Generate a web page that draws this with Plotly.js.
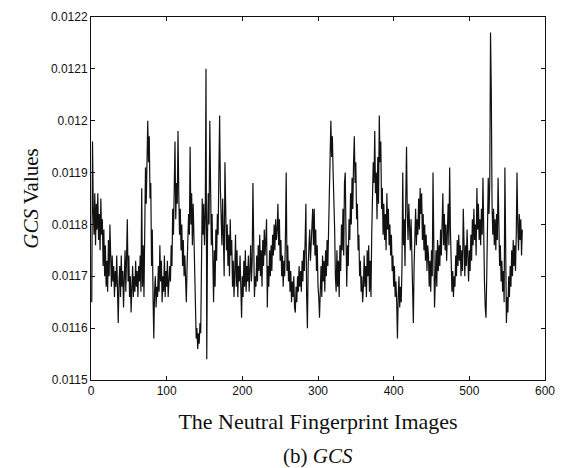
<!DOCTYPE html>
<html>
<head>
<meta charset="utf-8">
<script src="https://cdn.plot.ly/plotly-3.0.1.min.js"></script>
<style>html,body{margin:0;padding:0;background:#fff;}#chart{width:565px;height:468px;}</style>
</head>
<body>
<div id="chart"></div>
<script>
// GCS values for each neutral fingerprint image (index 1..N)
const gcsValues = [
0.01165,0.01196,0.01183,0.01178,0.01186,0.01176,0.01184,0.01179,0.01186,0.01177,
0.01182,0.01175,0.01185,0.01178,0.01181,0.01172,0.01179,0.01170,0.01176,0.01168,
0.01173,0.01167,0.01177,0.01170,0.01180,0.01171,0.01168,0.01174,0.01169,0.01172,
0.01166,0.01171,0.01168,0.01174,0.01165,0.01161,0.01169,0.01172,0.01166,0.01174,
0.01168,0.01171,0.01164,0.01170,0.01175,0.01167,0.01172,0.01181,0.01169,0.01174,
0.01166,0.01170,0.01163,0.01168,0.01172,0.01166,0.01170,0.01167,0.01173,0.01168,
0.01171,0.01166,0.01172,0.01169,0.01174,0.01167,0.01187,0.01168,0.01176,0.01166,
0.01183,0.01191,0.01184,0.01195,0.01200,0.01192,0.01197,0.01185,0.01188,0.01172,
0.01179,0.01166,0.01158,0.01167,0.01170,0.01164,0.01168,0.01166,0.01172,0.01167,
0.01176,0.01169,0.01173,0.01165,0.01170,0.01167,0.01174,0.01166,0.01171,0.01168,
0.01173,0.01166,0.01170,0.01172,0.01169,0.01176,0.01172,0.01183,0.01178,0.01190,
0.01196,0.01181,0.01188,0.01184,0.01198,0.01186,0.01178,0.01183,0.01175,0.01180,
0.01172,0.01177,0.01170,0.01174,0.01168,0.01165,0.01172,0.01176,0.01182,0.01178,
0.01195,0.01180,0.01186,0.01176,0.01184,0.01178,0.01170,0.01162,0.01158,0.01160,
0.01156,0.01159,0.01157,0.01161,0.01159,0.01172,0.01185,0.01178,0.01184,0.01176,
0.01182,0.01210,0.01154,0.01178,0.01186,0.01180,0.01200,0.01188,0.01176,0.01182,
0.01170,0.01165,0.01175,0.01168,0.01179,0.01173,0.01182,0.01178,0.01190,0.01201,
0.01187,0.01181,0.01176,0.01185,0.01179,0.01170,0.01192,0.01182,0.01175,0.01180,
0.01172,0.01178,0.01170,0.01181,0.01174,0.01177,0.01168,0.01173,0.01166,0.01171,
0.01178,0.01168,0.01175,0.01166,0.01172,0.01169,0.01174,0.01168,0.01162,0.01170,
0.01166,0.01173,0.01168,0.01175,0.01167,0.01172,0.01169,0.01174,0.01167,0.01171,
0.01176,0.01169,0.01173,0.01188,0.01171,0.01166,0.01170,0.01168,0.01174,0.01169,
0.01176,0.01171,0.01178,0.01170,0.01175,0.01168,0.01177,0.01172,0.01179,0.01174,
0.01177,0.01181,0.01164,0.01172,0.01168,0.01175,0.01170,0.01176,0.01171,0.01178,
0.01174,0.01180,0.01175,0.01181,0.01177,0.01179,0.01184,0.01176,0.01181,0.01173,
0.01177,0.01170,0.01174,0.01168,0.01173,0.01170,0.01178,0.01190,0.01171,0.01176,
0.01169,0.01173,0.01167,0.01171,0.01165,0.01169,0.01166,0.01170,0.01164,0.01163,
0.01168,0.01165,0.01170,0.01167,0.01172,0.01168,0.01171,0.01167,0.01173,0.01169,
0.01175,0.01171,0.01177,0.01184,0.01166,0.01160,0.01172,0.01176,0.01179,0.01173,
0.01177,0.01181,0.01183,0.01176,0.01183,0.01174,0.01179,0.01171,0.01176,0.01168,
0.01166,0.01162,0.01168,0.01172,0.01166,0.01174,0.01169,0.01173,0.01167,0.01175,
0.01170,0.01177,0.01172,0.01180,0.01185,0.01191,0.01200,0.01193,0.01197,0.01190,
0.01186,0.01179,0.01170,0.01167,0.01175,0.01168,0.01173,0.01166,0.01176,0.01171,
0.01180,0.01175,0.01183,0.01174,0.01188,0.01190,0.01178,0.01168,0.01176,0.01172,
0.01181,0.01177,0.01186,0.01180,0.01189,0.01183,0.01192,0.01197,0.01188,0.01192,
0.01181,0.01184,0.01175,0.01178,0.01170,0.01173,0.01167,0.01170,0.01165,0.01168,
0.01174,0.01168,0.01172,0.01166,0.01175,0.01170,0.01176,0.01167,0.01173,0.01166,
0.01178,0.01185,0.01192,0.01188,0.01198,0.01186,0.01190,0.01181,0.01193,0.01184,
0.01201,0.01192,0.01196,0.01183,0.01187,0.01178,0.01184,0.01177,0.01182,0.01175,
0.01186,0.01179,0.01183,0.01176,0.01180,0.01174,0.01178,0.01171,0.01174,0.01168,
0.01172,0.01166,0.01169,0.01165,0.01158,0.01166,0.01170,0.01164,0.01168,0.01165,
0.01172,0.01190,0.01176,0.01181,0.01172,0.01185,0.01195,0.01182,0.01177,0.01184,
0.01179,0.01175,0.01181,0.01174,0.01170,0.01161,0.01172,0.01178,0.01183,0.01176,
0.01181,0.01178,0.01185,0.01179,0.01187,0.01182,0.01186,0.01177,0.01182,0.01175,
0.01180,0.01173,0.01178,0.01171,0.01176,0.01174,0.01168,0.01173,0.01167,0.01175,
0.01170,0.01190,0.01172,0.01164,0.01169,0.01175,0.01168,0.01177,0.01171,0.01176,
0.01172,0.01179,0.01174,0.01181,0.01186,0.01176,0.01182,0.01175,0.01180,0.01173,
0.01178,0.01184,0.01176,0.01191,0.01179,0.01172,0.01167,0.01171,0.01166,0.01170,
0.01168,0.01174,0.01170,0.01177,0.01172,0.01178,0.01173,0.01176,0.01170,0.01175,
0.01171,0.01183,0.01174,0.01170,0.01176,0.01172,0.01179,0.01174,0.01169,0.01175,
0.01171,0.01178,0.01173,0.01181,0.01176,0.01183,0.01177,0.01180,0.01174,0.01187,
0.01179,0.01184,0.01177,0.01181,0.01176,0.01183,0.01178,0.01189,0.01176,0.01169,
0.01164,0.01162,0.01170,0.01178,0.01189,0.01182,0.01188,0.01217,0.01206,0.01184,
0.01178,0.01183,0.01176,0.01181,0.01175,0.01182,0.01177,0.01189,0.01178,0.01172,
0.01176,0.01169,0.01173,0.01167,0.01171,0.01165,0.01191,0.01168,0.01161,0.01166,
0.01163,0.01170,0.01166,0.01172,0.01168,0.01175,0.01170,0.01177,0.01172,0.01176,
0.01171,0.01178,0.01190,0.01180,0.01175,0.01182,0.01177,0.01181,0.01174,0.01179
];
const imageIndex = gcsValues.map((v, i) => i + 1);

const xTickVals = [0, 100, 200, 300, 400, 500, 600];
const yTickVals = [0.0115, 0.0116, 0.0117, 0.0118, 0.0119, 0.012, 0.0121, 0.0122];
const yTickText = ['0.0115', '0.0116', '0.0117', '0.0118', '0.0119', '0.012', '0.0121', '0.0122'];

const xTitle = 'The Neutral Fingerprint Images';
const yTitle = '<i>GCS</i> Values';
const caption = '(b) <i>GCS</i>';

const trace = {
  x: imageIndex,
  y: gcsValues,
  type: 'scatter',
  mode: 'lines',
  line: {color: '#111', width: 1.2},
  hoverinfo: 'skip'
};

const tickFont = {family: 'Liberation Sans, Arial, sans-serif', size: 12, color: '#111'};
const serif = 'Liberation Serif, Times New Roman, serif';

const layout = {
  width: 565,
  height: 468,
  margin: {l: 91, r: 20, t: 17, b: 88},
  paper_bgcolor: '#fff',
  plot_bgcolor: '#fff',
  showlegend: false,
  xaxis: {
    range: [0, 600],
    tickvals: xTickVals,
    ticks: 'inside',
    ticklen: 4,
    tickcolor: '#111',
    showline: true,
    linecolor: '#111',
    linewidth: 1,
    mirror: 'ticks',
    showgrid: false,
    zeroline: false,
    tickfont: tickFont,
    title: {text: xTitle, font: {family: serif, size: 22, color: '#111'}, standoff: 16}
  },
  yaxis: {
    range: [0.0115, 0.0122],
    tickvals: yTickVals,
    ticktext: yTickText,
    ticks: 'inside',
    ticklen: 4,
    tickcolor: '#111',
    showline: true,
    linecolor: '#111',
    linewidth: 1,
    mirror: 'ticks',
    showgrid: false,
    zeroline: false,
    tickfont: tickFont,
    title: {text: yTitle, font: {family: serif, size: 21, color: '#111'}, standoff: 6}
  },
  annotations: [{
    text: caption,
    xref: 'paper', yref: 'paper',
    x: 0.5, y: -0.21,
    xanchor: 'center', yanchor: 'middle',
    showarrow: false,
    font: {family: serif, size: 21, color: '#111'}
  }]
};

Plotly.newPlot('chart', [trace], layout, {staticPlot: true, displayModeBar: false});
</script>
</body>
</html>
